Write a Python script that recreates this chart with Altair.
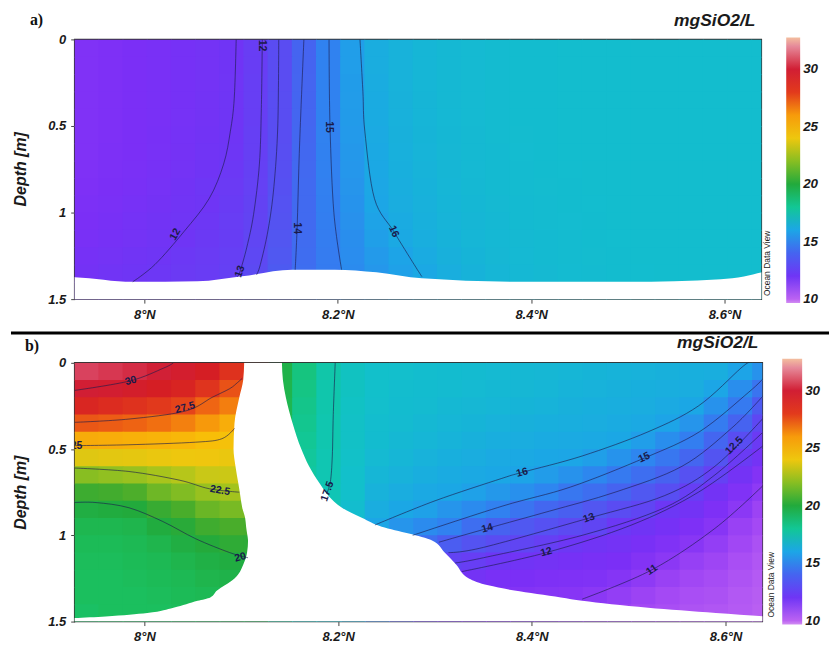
import altair as alt
import pandas as pd

FONT = "Liberation Sans"

# ---------------- grid positions (cell centres) ----------------
LAT = [7.94, 7.965, 7.99, 8.015, 8.04, 8.065, 8.09, 8.115, 8.14, 8.165, 8.19, 8.215, 8.24, 8.265,
       8.29, 8.315, 8.34, 8.365, 8.39, 8.415, 8.44, 8.465, 8.49, 8.515, 8.54, 8.565, 8.59, 8.615, 8.64]
DEPTH = [0.05, 0.15, 0.25, 0.35, 0.45, 0.55, 0.65, 0.75, 0.85, 0.95, 1.05, 1.15, 1.25, 1.35, 1.45]

# ---------------- panel a) silicate values (mgSiO2/L) ----------------
A_GRID = [
    [11.3, 11.4, 11.5, 11.6, 11.7, 11.8, 11.95, 12.35, 13.0, 14.0, 14.95, 15.75, 16.25, 16.45, 16.6, 16.7, 16.75, 16.8, 16.85, 16.85, 16.9, 16.9, 16.9, 16.9, 16.9, 16.9, 16.9, 16.9, 16.9],
    [11.3, 11.4, 11.5, 11.6, 11.7, 11.8, 11.95, 12.35, 13.0, 14.0, 14.95, 15.75, 16.25, 16.45, 16.6, 16.7, 16.75, 16.8, 16.85, 16.85, 16.9, 16.9, 16.9, 16.9, 16.9, 16.9, 16.9, 16.9, 16.9],
    [11.3, 11.4, 11.5, 11.6, 11.7, 11.8, 11.97, 12.37, 13.02, 14.02, 14.95, 15.72, 16.22, 16.45, 16.6, 16.7, 16.75, 16.8, 16.85, 16.85, 16.9, 16.9, 16.9, 16.9, 16.9, 16.9, 16.9, 16.9, 16.9],
    [11.3, 11.4, 11.5, 11.6, 11.7, 11.82, 11.98, 12.38, 13.03, 14.03, 14.95, 15.7, 16.2, 16.43, 16.58, 16.7, 16.75, 16.8, 16.85, 16.85, 16.9, 16.9, 16.9, 16.9, 16.9, 16.9, 16.9, 16.9, 16.9],
    [11.3, 11.4, 11.5, 11.6, 11.72, 11.84, 12.0, 12.4, 13.05, 14.05, 14.95, 15.68, 16.18, 16.42, 16.57, 16.68, 16.75, 16.8, 16.85, 16.85, 16.9, 16.9, 16.9, 16.9, 16.9, 16.9, 16.9, 16.9, 16.9],
    [11.3, 11.4, 11.5, 11.62, 11.74, 11.87, 12.02, 12.42, 13.06, 14.08, 14.93, 15.65, 16.15, 16.4, 16.55, 16.67, 16.74, 16.8, 16.84, 16.85, 16.9, 16.9, 16.9, 16.9, 16.9, 16.9, 16.9, 16.9, 16.9],
    [11.32, 11.42, 11.52, 11.64, 11.77, 11.9, 12.06, 12.44, 13.08, 14.12, 14.92, 15.6, 16.12, 16.38, 16.53, 16.65, 16.73, 16.78, 16.83, 16.85, 16.88, 16.9, 16.9, 16.9, 16.9, 16.9, 16.9, 16.9, 16.9],
    [11.35, 11.45, 11.55, 11.67, 11.8, 11.95, 12.12, 12.47, 13.12, 14.15, 14.9, 15.55, 16.08, 16.35, 16.5, 16.62, 16.72, 16.77, 16.82, 16.85, 16.87, 16.9, 16.9, 16.9, 16.9, 16.9, 16.9, 16.9, 16.9],
    [11.4, 11.5, 11.6, 11.72, 11.86, 12.03, 12.2, 12.5, 13.18, 14.18, 14.88, 15.5, 16.03, 16.3, 16.46, 16.6, 16.7, 16.76, 16.8, 16.84, 16.86, 16.88, 16.9, 16.9, 16.9, 16.9, 16.9, 16.9, 16.9],
    [11.45, 11.55, 11.66, 11.78, 11.92, 12.0, 12.28, 12.55, 13.25, 14.2, 14.85, 15.45, 16.0, 16.25, 16.42, 16.56, 16.67, 16.74, 16.78, 16.82, 16.85, 16.87, 16.88, 16.9, 16.9, 16.9, 16.9, 16.9, 16.9],
    [11.5, 11.62, 11.74, 11.86, 11.96, 12.1, 12.33, 12.6, 13.3, 14.2, 14.8, 15.38, 15.9, 16.18, 16.37, 16.52, 16.63, 16.71, 16.76, 16.8, 16.83, 16.86, 16.88, 16.9, 16.9, 16.9, 16.9, 16.9, 16.9],
    [11.6, 11.7, 11.8, 11.9, 12.02, 12.18, 12.36, 12.72, 13.4, 14.25, 14.78, 15.3, 15.8, 16.1, 16.3, 16.47, 16.6, 16.68, 16.74, 16.78, 16.82, 16.85, 16.87, 16.88, 16.9, 16.9, 16.9, 16.9, 16.9],
    [11.7, 11.8, 11.9, 12.0, 12.12, 12.25, 12.42, 12.82, 13.5, 14.28, 14.75, 15.25, 15.65, 15.95, 16.2, 16.4, 16.55, 16.65, 16.72, 16.77, 16.81, 16.84, 16.86, 16.88, 16.9, 16.9, 16.9, 16.9, 16.9],
    [11.78, 11.9, 12.0, 12.1, 12.2, 12.3, 12.47, 12.9, 13.6, 14.3, 14.72, 15.2, 15.55, 15.85, 16.08, 16.3, 16.48, 16.6, 16.68, 16.74, 16.79, 16.82, 16.85, 16.87, 16.88, 16.9, 16.9, 16.9, 16.9],
    [11.78, 11.9, 12.0, 12.1, 12.2, 12.3, 12.47, 12.9, 13.6, 14.3, 14.72, 15.2, 15.55, 15.85, 16.08, 16.3, 16.48, 16.6, 16.68, 16.74, 16.79, 16.82, 16.85, 16.87, 16.88, 16.9, 16.9, 16.9, 16.9],
]

# ---------------- panel b) silicate values (mgSiO2/L) ----------------
B_GRID = [
    [31.0, 30.7, 30.4, 30.05, 29.6, 29.0, 28.3, 27.8, 19.6, 18.4, 17.65, 17.2, 17.0, 16.95, 16.9, 16.85, 16.8, 16.75, 16.7, 16.65, 16.6, 16.55, 16.5, 16.45, 16.4, 16.35, 16.3, 15.95, 15.4],
    [30.0, 29.8, 29.45, 29.0, 28.8, 28.2, 27.5, 27.0, 19.5, 18.3, 17.6, 17.2, 17.0, 16.9, 16.85, 16.8, 16.75, 16.7, 16.65, 16.6, 16.5, 16.45, 16.4, 16.35, 16.3, 16.25, 16.0, 15.3, 14.5],
    [28.7, 28.5, 28.3, 28.05, 27.8, 27.1, 26.6, 26.2, 19.4, 18.2, 17.6, 17.15, 16.95, 16.85, 16.8, 16.7, 16.65, 16.6, 16.55, 16.5, 16.4, 16.35, 16.3, 16.25, 16.15, 16.05, 15.4, 14.7, 13.6],
    [27.4, 27.3, 27.15, 26.9, 26.55, 26.05, 25.5, 25.3, 19.3, 18.1, 17.55, 17.1, 16.9, 16.8, 16.7, 16.6, 16.55, 16.45, 16.4, 16.35, 16.3, 16.25, 16.2, 16.1, 15.95, 15.5, 14.75, 13.95, 12.8],
    [25.55, 25.5, 25.4, 25.3, 25.2, 25.0, 24.65, 24.5, 19.0, 18.0, 17.55, 17.1, 16.85, 16.7, 16.6, 16.5, 16.4, 16.3, 16.25, 16.2, 16.15, 16.1, 16.05, 15.75, 15.3, 14.8, 14.05, 13.05, 12.2],
    [23.65, 23.75, 23.8, 23.9, 24.0, 24.07, 23.9, 23.8, 18.8, 17.9, 17.5, 17.05, 16.75, 16.6, 16.45, 16.35, 16.25, 16.15, 16.1, 16.05, 16.0, 15.8, 15.45, 15.05, 14.6, 14.05, 13.35, 12.25, 11.8],
    [22.0, 22.15, 22.3, 22.55, 22.8, 23.15, 23.2, 23.1, 18.7, 17.8, 17.5, 17.0, 16.6, 16.45, 16.3, 16.2, 16.1, 16.05, 15.95, 15.7, 15.4, 15.1, 14.7, 14.3, 13.9, 13.2, 12.5, 11.8, 11.2],
    [20.75, 20.9, 21.1, 21.6, 21.9, 22.28, 22.46, 22.4, 18.6, 17.8, 17.45, 17.0, 16.45, 16.25, 16.1, 16.05, 15.85, 15.6, 15.35, 15.05, 14.6, 14.3, 13.95, 13.5, 13.1, 12.4, 11.85, 11.3, 10.9],
    [19.8, 19.9, 20.0, 20.6, 21.05, 21.55, 21.76, 21.7, 18.5, 17.7, 17.4, 16.9, 16.25, 16.05, 15.85, 15.5, 15.2, 14.9, 14.5, 14.1, 13.8, 13.4, 13.0, 12.7, 12.1, 11.85, 11.4, 10.95, 10.65],
    [19.4, 19.4, 19.5, 19.9, 20.2, 20.8, 21.05, 21.0, 18.4, 17.7, 17.4, 16.8, 16.0, 15.5, 15.2, 14.9, 14.3, 13.9, 13.5, 13.2, 12.9, 12.7, 12.15, 11.95, 11.7, 11.4, 11.05, 10.7, 10.5],
    [19.2, 19.2, 19.3, 19.5, 19.8, 20.05, 20.35, 20.3, 18.3, 17.6, 17.3, 16.7, 15.8, 15.0, 14.3, 13.7, 13.3, 13.0, 12.7, 12.45, 12.1, 11.9, 11.8, 11.6, 11.3, 11.0, 10.8, 10.55, 10.35],
    [19.1, 19.1, 19.2, 19.3, 19.5, 19.7, 19.85, 19.8, 18.2, 17.5, 17.2, 16.6, 15.6, 14.6, 13.6, 12.6, 12.4, 12.1, 11.9, 11.8, 11.7, 11.6, 11.5, 11.2, 10.95, 10.75, 10.6, 10.4, 10.25],
    [19.0, 19.0, 19.1, 19.2, 19.3, 19.5, 19.6, 19.6, 18.1, 17.4, 17.1, 16.5, 15.4, 14.2, 13.0, 12.0, 11.8, 11.6, 11.5, 11.4, 11.35, 11.3, 11.1, 10.9, 10.7, 10.55, 10.45, 10.3, 10.15],
    [19.0, 19.0, 19.0, 19.1, 19.2, 19.3, 19.4, 19.4, 18.0, 17.3, 17.0, 16.4, 15.2, 13.8, 12.5, 11.8, 11.5, 11.3, 11.2, 11.1, 11.05, 10.95, 10.8, 10.65, 10.5, 10.4, 10.35, 10.2, 10.1],
    [18.9, 19.0, 19.0, 19.0, 19.1, 19.2, 19.3, 19.3, 17.9, 17.2, 16.9, 16.3, 15.0, 13.5, 12.2, 11.6, 11.3, 11.1, 11.0, 10.9, 10.8, 10.7, 10.6, 10.5, 10.4, 10.3, 10.25, 10.15, 10.05],
]

# ---------------- blank (no data) areas ----------------
A_MASK_LAT = [7.90, 7.928, 7.988, 8.055, 8.101, 8.153, 8.197, 8.24, 8.287, 8.39, 8.50, 8.596, 8.62, 8.639, 8.66]
A_MASK_TOP = [1.37, 1.373, 1.40, 1.397, 1.368, 1.33, 1.33, 1.345, 1.38, 1.40, 1.40, 1.385, 1.37, 1.345, 1.33]

B_MASK_DEP = [0.0, 0.1, 0.2, 0.35, 0.5, 0.6, 0.7, 0.77, 0.84, 0.90, 0.95, 0.99, 1.03, 1.10, 1.17, 1.25,
              1.29, 1.32, 1.36, 1.38, 1.42, 1.45, 1.47, 1.48, 1.5]
B_MASK_LEFT = [8.103, 8.102, 8.098, 8.093, 8.092, 8.094, 8.097, 8.099, 8.101, 8.104, 8.105, 8.106, 8.107,
               8.106, 8.102, 8.093, 8.083, 8.075, 8.068, 8.055, 8.03, 8.003, 7.96, 7.928, 7.90]
B_MASK_RIGHT = [8.142, 8.143, 8.146, 8.153, 8.162, 8.170, 8.181, 8.19, 8.204, 8.225, 8.245, 8.273, 8.297,
                8.31, 8.322, 8.335, 8.355, 8.382, 8.43, 8.452, 8.52, 8.59, 8.639, 8.66, 8.66]

# ---------------- contour lines (lat, depth) ----------------
A_C12 = [(8.095, 0.0), (8.093, 0.34), (8.089, 0.53), (8.082, 0.72), (8.067, 0.92), (8.041, 1.11), (8.011, 1.30), (7.988, 1.40)]
A_C125 = [(8.122, 0.0), (8.121, 0.4), (8.119, 0.72), (8.113, 1.01), (8.106, 1.20), (8.099, 1.34), (8.096, 1.37)]
A_C13 = [(8.139, 0.0), (8.138, 0.5), (8.134, 0.85), (8.128, 1.1), (8.12, 1.3), (8.116, 1.36)]
A_C14 = [(8.165, 0.0), (8.162, 0.4), (8.160, 0.7), (8.158, 1.09), (8.156, 1.33)]
A_C15 = [(8.191, 0.0), (8.192, 0.5), (8.196, 1.0), (8.204, 1.33)]
A_C16 = [(8.223, 0.0), (8.226, 0.3), (8.228, 0.53), (8.238, 0.92), (8.258, 1.11), (8.279, 1.30), (8.287, 1.37)]

B_C30 = [(7.928, 0.16), (7.985, 0.105), (8.02, 0.03), (8.03, 0.0)]
B_C275 = [(7.928, 0.345), (7.984, 0.326), (8.042, 0.28), (8.070, 0.20), (8.088, 0.15), (8.096, 0.115), (8.101, 0.09)]
B_C25 = [(7.928, 0.48), (7.984, 0.475), (8.053, 0.46), (8.08, 0.44), (8.093, 0.38)]
B_C225 = [(7.928, 0.61), (7.984, 0.63), (8.036, 0.68), (8.067, 0.73), (8.098, 0.75)]
B_C20 = [(7.928, 0.81), (7.95, 0.81), (7.984, 0.84), (8.019, 0.92), (8.053, 1.02), (8.088, 1.10), (8.107, 1.13)]
B_C175 = [(8.197, 0.0), (8.195, 0.3), (8.194, 0.54), (8.192, 0.69), (8.188, 0.76)]
B_C16 = [(8.238, 0.94), (8.30, 0.80), (8.369, 0.67), (8.39, 0.635), (8.452, 0.54), (8.52, 0.40), (8.572, 0.25), (8.616, 0.03), (8.624, 0.0)]
B_C15 = [(8.277, 1.0), (8.37, 0.83), (8.44, 0.72), (8.517, 0.55), (8.573, 0.40), (8.624, 0.17), (8.639, 0.09)]
B_C14 = [(8.304, 1.04), (8.354, 0.96), (8.418, 0.86), (8.486, 0.75), (8.555, 0.60), (8.606, 0.38), (8.639, 0.19)]
B_C13 = [(8.314, 1.10), (8.35, 1.07), (8.459, 0.90), (8.537, 0.77), (8.589, 0.60), (8.639, 0.32)]
B_C125 = [(8.321, 1.16), (8.35, 1.13), (8.452, 1.0), (8.537, 0.84), (8.589, 0.65), (8.639, 0.40)]
B_C12 = [(8.328, 1.21), (8.415, 1.10), (8.503, 0.94), (8.572, 0.75), (8.639, 0.48)]
B_C11 = [(8.452, 1.37), (8.524, 1.20), (8.589, 0.96), (8.639, 0.71)]

# contour labels: text, lat, depth, angle
A_LABELS = [("12", 8.122, 0.035, 90), ("12", 8.032, 1.126, 300), ("13", 8.099, 1.34, 290),
            ("14", 8.158, 1.09, 90), ("15", 8.191, 0.506, 90), ("16", 8.258, 1.11, 65)]
B_LABELS = [("30", 7.986, 0.104, 345), ("27.5", 8.042, 0.26, 345), ("25", 7.93, 0.48, 0),
            ("22.5", 8.078, 0.74, 10), ("20", 8.099, 1.128, 345), ("17.5", 8.189, 0.745, 290),
            ("16", 8.39, 0.636, 345), ("15", 8.516, 0.549, 335), ("14", 8.354, 0.96, 345),
            ("13", 8.459, 0.90, 340), ("12.5", 8.609, 0.48, 315), ("12", 8.415, 1.098, 345),
            ("11", 8.524, 1.20, 325)]

# ---------------- colour map (ODV style) ----------------
CB_STOPS = [9.65, 10, 10.5, 11, 11.5, 12, 13, 14, 15, 16, 17, 17.5, 18, 19, 20, 21, 22, 23, 24, 25, 26,
            27, 28, 29, 30, 31, 32, 32.77]
CB_COLORS = ["#d28ef2", "#bb62f2", "#a449f4", "#8836f5", "#7b2ff6", "#6f35f5", "#5a4cf2", "#4564f0",
             "#2f84f0", "#1ca6e6", "#12c0cb", "#10c6b2", "#12c795", "#1bbf5e", "#22aa3c", "#46ac2c",
             "#88be22", "#c2c818", "#eec70e", "#f8be08", "#f79b0b", "#f06a12", "#e23a1c", "#d51e24",
             "#d11e34", "#d9425e", "#e68a9a", "#f3be9e"]
CB_TICKS = [10, 15, 20, 25, 30]
LAT_TICKS = [8, 8.2, 8.4, 8.6]
DEPTH_TICKS = [0, 0.5, 1, 1.5]


def field_df(grid):
    rows = []
    for i, d in enumerate(DEPTH):
        for j, lat in enumerate(LAT):
            rows.append({"x0": lat - 0.0125, "x1": lat + 0.0135,
                         "y0": d - 0.05, "y1": d + 0.056, "v": grid[i][j]})
    return pd.DataFrame(rows)


def lines_df(contours):
    rows = []
    for cid, pts in enumerate(contours):
        for k, (lat, dep) in enumerate(pts):
            rows.append({"cid": cid, "k": k, "lat": lat, "dep": dep})
    return pd.DataFrame(rows)


def labels_df(labels):
    return pd.DataFrame([{"t": t, "lat": la, "dep": de, "ang": an} for t, la, de, an in labels])


XS = alt.Scale(domain=[7.928, 8.638], nice=False, zero=False)
YS = alt.Scale(domain=[0, 1.5], reverse=True, nice=False, zero=False)
CS = alt.Scale(domain=CB_STOPS, range=CB_COLORS, interpolate="rgb", clamp=True)

X_AX = alt.Axis(values=LAT_TICKS, labelExpr="datum.value + '°N'", title=None, tickSize=4,
                labelPadding=5, labelFontSize=13)
Y_AX = alt.Axis(values=DEPTH_TICKS, labelExpr="datum.value", title="Depth [m]", tickSize=4,
                labelPadding=5, labelFontSize=13, titleX=-54, titleY=130, titleAngle=270,
                titleBaseline="middle", titleAlign="center")

ONE = pd.DataFrame({"a": [0]})


def panel(grid, contours, labels, mask, tag, W, H, leg_x, leg_y, leg_len, leg_thick,
          odv_x, odv_y, ttl_x, ttl_y, tag_x, tag_y, extra):
    heat = alt.Chart(field_df(grid)).mark_rect(clip=True, strokeWidth=0).encode(
        x=alt.X("x0:Q", scale=XS, axis=X_AX),
        x2="x1:Q",
        y=alt.Y("y0:Q", scale=YS, axis=Y_AX),
        y2="y1:Q",
        color=alt.Color("v:Q", scale=CS, legend=alt.Legend(
            orient="none", legendX=leg_x, legendY=leg_y, direction="vertical",
            gradientLength=leg_len, gradientThickness=leg_thick, values=CB_TICKS,
            labelExpr="datum.value", title=None, gradientStrokeWidth=0, labelOffset=3,
            labelFont=FONT, labelFontSize=13.5, labelFontWeight="bold", labelFontStyle="italic",
            labelColor="#1a1a1a", tickCount=5)),
    )
    lines = alt.Chart(lines_df(contours)).mark_line(
        color="#1d1d4d", strokeWidth=0.9, opacity=0.7, interpolate="cardinal", clip=True
    ).encode(
        x=alt.X("lat:Q", scale=XS, axis=X_AX),
        y=alt.Y("dep:Q", scale=YS, axis=Y_AX),
        detail="cid:N",
        order="k:Q",
    )
    texts = alt.Chart(labels_df(labels)).mark_text(
        font=FONT, fontSize=10.5, fontWeight="bold", color="#1a1a4a", clip=True
    ).encode(
        x=alt.X("lat:Q", scale=XS, axis=X_AX),
        y=alt.Y("dep:Q", scale=YS, axis=Y_AX),
        text="t:N",
        angle=alt.Angle("ang:Q", scale=None),
    )
    ttl = alt.Chart(ONE).mark_text(
        text="mgSiO2/L", font=FONT, fontSize=17.5, fontWeight="bold", fontStyle="italic",
        align="right", baseline="alphabetic", color="#1a1a1a"
    ).encode(x=alt.value(ttl_x), y=alt.value(ttl_y))
    tg = alt.Chart(ONE).mark_text(
        text=tag, font="Liberation Serif", fontSize=16, fontWeight="bold",
        align="left", baseline="alphabetic", color="#111111"
    ).encode(x=alt.value(tag_x), y=alt.value(tag_y))
    odv = alt.Chart(ONE).mark_text(
        text="Ocean Data View", font=FONT, fontSize=8.5, angle=270,
        align="center", baseline="middle", color="#222222"
    ).encode(x=alt.value(odv_x), y=alt.value(odv_y))
    layers = [heat, mask, lines, texts, ttl, tg, odv] + extra
    return alt.layer(*layers).properties(width=W, height=H)


mask_a = alt.Chart(pd.DataFrame({"lat": A_MASK_LAT, "top": A_MASK_TOP, "bot": [1.6] * len(A_MASK_LAT)})).mark_area(
    color="white", clip=True, interpolate="monotone"
).encode(
    x=alt.X("lat:Q", scale=XS, axis=X_AX),
    y=alt.Y("top:Q", scale=YS, axis=Y_AX),
    y2="bot:Q",
)

mask_b = alt.Chart(pd.DataFrame({"dep": B_MASK_DEP, "l": B_MASK_LEFT, "r": B_MASK_RIGHT})).mark_area(
    color="white", clip=True, interpolate="monotone", orient="horizontal"
).encode(
    y=alt.Y("dep:Q", scale=YS, axis=Y_AX),
    x=alt.X("l:Q", scale=XS, axis=X_AX),
    x2="r:Q",
)

separator = alt.Chart(ONE).mark_rule(color="black", strokeWidth=3).encode(
    x=alt.value(-64), x2=alt.value(758), y=alt.value(295))
anchor = alt.Chart(ONE).mark_rule(strokeOpacity=0, strokeWidth=1).encode(
    x=alt.value(-64), x2=alt.value(0), y=alt.value(-28.5))

pa = panel(A_GRID, [A_C12, A_C125, A_C13, A_C14, A_C15, A_C16], A_LABELS, mask_a, "a)",
           690, 261, 715, -2, 267, 14, 696, 225, 684, -13, -45, -14, [separator, anchor])
pb = panel(B_GRID, [B_C30, B_C275, B_C25, B_C225, B_C20, B_C175, B_C16, B_C15, B_C14, B_C13,
                    B_C125, B_C12, B_C11], B_LABELS, mask_b, "b)",
           691, 260, 711, -4, 267, 20, 700, 223, 687, -15, -50, -12, [])

chart = alt.vconcat(pa, pb, spacing=64, bounds="flush").resolve_scale(
    color="independent"
).properties(
    padding={"left": 0, "top": 0, "right": 0, "bottom": 0}
).configure_view(
    stroke="#333333", strokeWidth=1.5
).configure_axis(
    labelFont=FONT, labelFontWeight="bold", labelFontStyle="italic", labelColor="#1a1a1a",
    tickColor="#444444", domain=False, grid=False,
    titleFont=FONT, titleFontSize=16, titleFontWeight="bold", titleFontStyle="italic",
    titleColor="#1a1a1a"
)

chart.save("out.html", embed_options={"renderer": "svg", "actions": False})
